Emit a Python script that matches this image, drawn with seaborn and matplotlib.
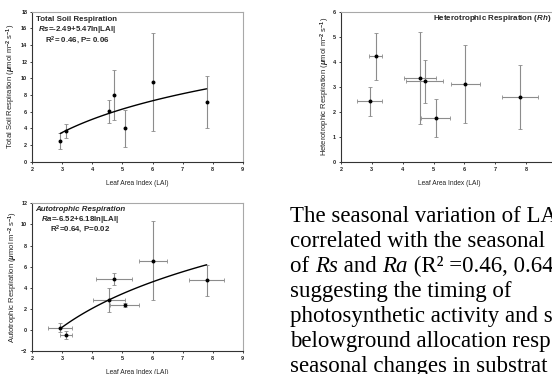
import numpy as np
import matplotlib
matplotlib.use("Agg")
import matplotlib.pyplot as plt
import seaborn as sns

# leaf area index of the seven sampling dates (mean and SE)
lai = [2.93, 3.12, 4.55, 4.72, 5.07, 6.02, 7.80]
lai_se = [0.40, 0.20, 0.52, 0.60, 0.47, 0.47, 0.59]

# respiration fluxes, umol m-2 s-1 (mean and SE)
rs = [2.52, 3.68, 6.05, 8.00, 4.00, 9.60, 7.20]
rs_se = [0.95, 0.84, 1.38, 3.00, 2.20, 5.90, 3.10]
rh = [2.41, 4.21, 3.35, 3.21, 1.75, 3.10, 2.59]
rh_se = [0.57, 0.95, 1.84, 0.86, 0.75, 1.55, 1.28]
ra = [0.22, -0.48, 2.83, 4.82, 2.36, 6.56, 4.70]
ra_se = [0.43, 0.38, 1.17, 0.53, 0.20, 3.73, 1.44]

# published log fits: y = a + b ln(LAI)
rs_fit = (-2.49, 5.47)
ra_fit = (-6.52, 6.18)

# caption lines; each line is a list of (text, italic) pieces
paragraph = [
    [("The seasonal variation of LAI", False)],
    [("correlated with the seasonal", False)],
    [("of ", False), ("Rs", True), (" and ", False), ("Ra", True), (" (R\u00b2 =0.46, 0.64", False)],
    [("suggesting the timing of", False)],
    [("photosynthetic activity and s", False)],
    [("belowground allocation resp", False)],
    [("seasonal changes in substrat", False)],
]

sns.set_style("ticks")
plt.rcParams["font.family"] = ["Liberation Sans", "DejaVu Sans"]
plt.rcParams["font.weight"] = "bold"
plt.rcParams["mathtext.fontset"] = "custom"
plt.rcParams["mathtext.rm"] = "Liberation Sans:bold"
plt.rcParams["mathtext.it"] = "Liberation Sans:bold:italic"
plt.rcParams["mathtext.bf"] = "Liberation Sans:bold"

W, H = 552, 374
fig = plt.figure(figsize=(W / 100, H / 100), dpi=100)


def px_axes(x0, x1, y0, y1):
    # axes rectangle given in pixel coords (top-left origin)
    return fig.add_axes([x0 / W, 1 - y1 / H, (x1 - x0) / W, (y1 - y0) / H])


def style(ax, ylim, yticks, ylabel, pad):
    ax.set_xlim(2, 9)
    ax.set_xticks(range(2, 10))
    ax.set_ylim(*ylim)
    ax.set_yticks(yticks)
    for side in ["top", "right"]:
        ax.spines[side].set_color("#a8a8a8")
        ax.spines[side].set_linewidth(0.8)
    for side in ["left", "bottom"]:
        ax.spines[side].set_color("#333333")
        ax.spines[side].set_linewidth(0.8)
    ax.tick_params(length=1.6, width=0.6, pad=2, labelsize=4, colors="#222222")
    ax.set_xlabel("Leaf Area Index (LAI)", fontsize=4.8, labelpad=6, color="#222222")
    ax.set_ylabel(ylabel, fontsize=5.5, labelpad=pad, color="#222222")


def points(ax, y, yerr, xerr=None):
    ax.errorbar(lai, y, yerr=yerr, xerr=xerr, fmt="none", ecolor="#8c8c8c",
                elinewidth=0.8, capsize=1.6, capthick=0.6, zorder=2)
    sns.scatterplot(x=lai, y=y, ax=ax, color="black", s=8, linewidth=0, zorder=3)


def fit_line(ax, coef):
    xs = np.linspace(min(lai), max(lai), 100)
    sns.lineplot(x=xs, y=coef[0] + coef[1] * np.log(xs), ax=ax, color="black", lw=1, zorder=2)


unit = " ($\\mu$mol m$^{-2}$ s$^{-1}$)"
ann = dict(ha="center", va="center", fontsize=5.7)

# total soil respiration
ax1 = px_axes(32.3, 242.7, 11.7, 161.7)
points(ax1, rs, rs_se)
fit_line(ax1, rs_fit)
style(ax1, (0, 18), range(0, 19, 2), "Total Soil Respiration" + unit, 2)
ax1.text(0.212, 0.949, "Total Soil Respiration", transform=ax1.transAxes, **ann)
ax1.text(0.212, 0.883, "$Rs$=-2.49+5.47ln|LAI|", transform=ax1.transAxes, **ann)
ax1.text(0.212, 0.811, "R$^2$= 0.46, P= 0.06", transform=ax1.transAxes, **ann)

# heterotrophic respiration (runs off the right edge)
ax2 = px_axes(341, 557, 11.7, 161.7)
points(ax2, rh, rh_se, lai_se)
style(ax2, (0, 6), range(0, 7), "Heterotrophic Respiration" + unit, 0.5)
ax2.text(0.426, 0.958, "Heterotrophic Respiration ($Rh$)", transform=ax2.transAxes,
         ha="left", va="center", fontsize=5.8)

# autotrophic respiration
ax3 = px_axes(32.3, 242.7, 203.3, 351)
points(ax3, ra, ra_se, lai_se)
fit_line(ax3, ra_fit)
style(ax3, (-2, 12), range(-2, 13, 2), "Autotrophic Respiration" + unit, 1)
ax3.text(0.227, 0.955, "Autotrophic Respiration", transform=ax3.transAxes, style="italic", **ann)
ax3.text(0.227, 0.892, "$Ra$=-6.52+6.18ln|LAI|", transform=ax3.transAxes, **ann)
ax3.text(0.227, 0.826, "R$^2$=0.64, P=0.02", transform=ax3.transAxes, **ann)

# caption text at bottom right, pieces chained left to right
serif = dict(family="Liberation Serif", weight="normal", fontsize=16.5, color="black")
for i, pieces in enumerate(paragraph):
    last = None
    for text, italic in pieces:
        st = "italic" if italic else "normal"
        if last is None:
            last = fig.text(290 / W, 1 - (222 + 25 * i) / H, text, va="baseline", ha="left",
                            style=st, **serif)
        else:
            last = fig.add_artist(matplotlib.text.Annotation(
                text, xy=(1, 0), xycoords=last, va="bottom", ha="left",
                style=st, annotation_clip=False, **serif))

fig.savefig("out.png", dpi=100)
